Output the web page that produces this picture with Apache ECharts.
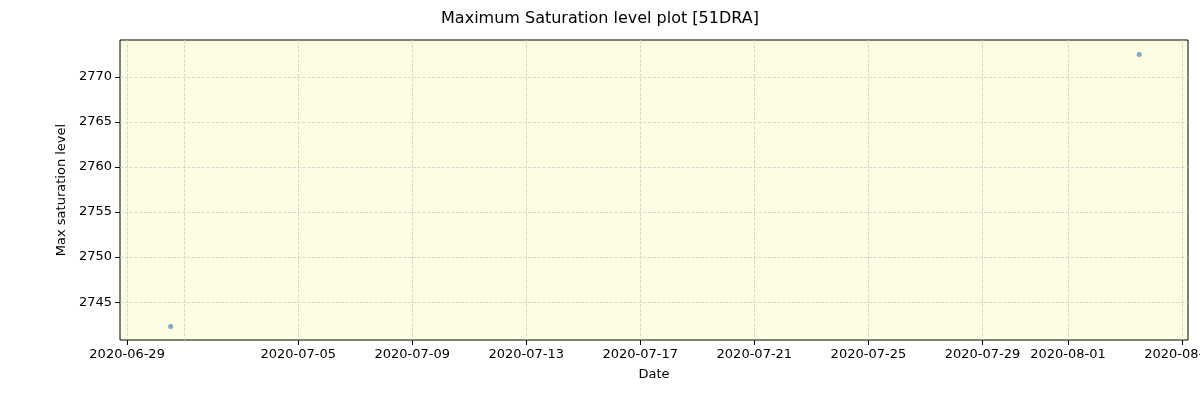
<!DOCTYPE html>
<html><head><meta charset="utf-8">
<script src="https://cdn.jsdelivr.net/npm/echarts@6/dist/echarts.min.js"></script>
<style>body{margin:0}#c{width:1200px;height:400px}</style></head>
<body><div id="c"></div>
<script>
const dates = ['2020-06-30T12:40:00Z', '2020-08-03T12:00:00Z'];
const values = [2742.3, 2772.5];
const xTickLabels = ['2020-06-29','2020-07-01','2020-07-05','2020-07-09','2020-07-13','2020-07-17','2020-07-21','2020-07-25','2020-07-29','2020-08-01','2020-08-05'];
const yTicks = [2745, 2750, 2755, 2760, 2765, 2770];
const xt = xTickLabels.map(d => Date.parse(d + 'T00:00:00Z'));
const day = 86400000;
const chart = echarts.init(document.getElementById('c'));
const grid = {type:'dashed', color:'#cfcfcf', width:0.8};
chart.setOption({
  animation:false,
  title:{text:'Maximum Saturation level plot [51DRA]', left:'center', top:6,
    textStyle:{fontFamily:'DejaVu Sans', fontWeight:'normal', fontSize:16, color:'#000'}},
  grid:{left:120, right:12, top:40, bottom:60, outerBoundsMode:'none', containLabel:false,
    backgroundColor:'#fdfde3', show:true, borderColor:'#000', borderWidth:1},
  xAxis:{type:'value', min:xt[0]-0.25*day, max:xt[xt.length-1]+0.21*day,
    name:'Date', nameLocation:'middle', nameGap:28, nameTextStyle:{fontFamily:'DejaVu Sans', fontSize:13, color:'#000'},
    axisLine:{show:false},
    axisTick:{show:true, customValues:xt, length:5, lineStyle:{color:'#000'}},
    axisLabel:{customValues:xt, hideOverlap:false, showMinLabel:true, showMaxLabel:true, color:'#000', fontFamily:'DejaVu Sans', fontSize:13, margin:8,
      formatter:v=>{const d=new Date(v);return d.toISOString().slice(0,10);}},
    splitLine:{show:true, lineStyle:grid}},
  yAxis:{type:'value', min:2740.8, max:2774.1,
    name:'Max saturation level', nameLocation:'middle', nameGap:50, nameTextStyle:{fontFamily:'DejaVu Sans', fontSize:13, color:'#000'},
    axisLine:{show:false},
    axisTick:{show:true, customValues:yTicks, length:5, lineStyle:{color:'#000'}},
    axisLabel:{customValues:yTicks, color:'#000', fontFamily:'DejaVu Sans', fontSize:13, margin:8, formatter:v=>String(v)},
    splitLine:{show:true, lineStyle:grid}},
  series:[{type:'scatter', symbolSize:5, itemStyle:{color:'#1f77b4', opacity:0.6},
    data:dates.map((d,i)=>[Date.parse(d), values[i]])}]
});
</script></body></html>
